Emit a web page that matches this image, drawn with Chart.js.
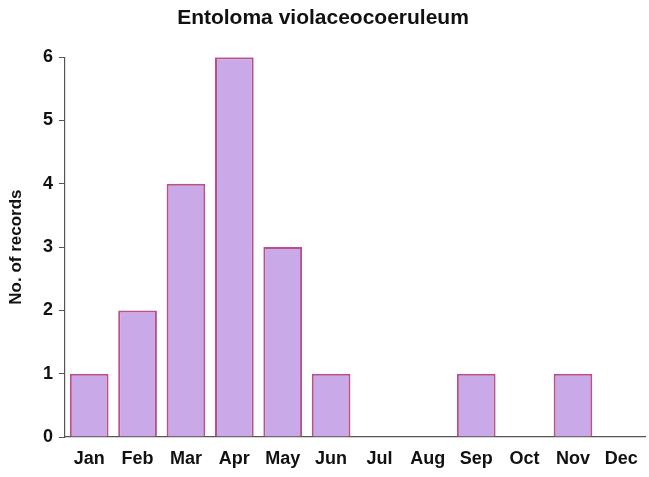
<!DOCTYPE html>
<html>
<head>
<meta charset="utf-8">
<script src="https://cdn.jsdelivr.net/npm/chart.js@4"></script>
<style>
  html, body { margin: 0; padding: 0; background: #fff; }
  #wrap { width: 649px; height: 477px; }
</style>
</head>
<body>
<div id="wrap"><canvas id="c" width="649" height="477"></canvas></div>
<script>
const months = ['Jan', 'Feb', 'Mar', 'Apr', 'May', 'Jun', 'Jul', 'Aug', 'Sep', 'Oct', 'Nov', 'Dec'];
const records = [1, 2, 4, 6, 3, 1, 0, 0, 1, 0, 1, 0];
const yTicks = [0, 1, 2, 3, 4, 5, 6];

const FONT = '"Liberation Sans", Arial, Helvetica, sans-serif';
const AXIS = '#555';

new Chart(document.getElementById('c'), {
  type: 'bar',
  data: {
    labels: months,
    datasets: [{
      data: records,
      backgroundColor: '#c9a9e8',
      borderColor: '#bb4f88',
      borderWidth: 2,
      categoryPercentage: 1,
      barPercentage: 0.8
    }]
  },
  options: {
    responsive: false,
    animation: false,
    devicePixelRatio: 1,
    layout: { padding: { left: 0, right: 3, top: 0, bottom: 0 } },
    plugins: {
      legend: { display: false },
      tooltip: { enabled: false },
      title: {
        display: true,
        text: 'Entoloma violaceocoeruleum',
        color: '#111',
        font: { family: FONT, size: 21, weight: 'bold' },
        padding: { top: 6, bottom: 26 }
      }
    },
    scales: {
      x: {
        grid: { display: false, drawTicks: false },
        border: { display: true, color: AXIS, width: 1.2 },
        ticks: {
          color: '#111',
          padding: 11,
          maxRotation: 0,
          font: { family: FONT, size: 18, weight: 'bold' }
        },
        afterFit: s => { s.height = 40; }
      },
      y: {
        min: 0,
        max: 6,
        afterBuildTicks: s => { s.ticks = yTicks.map(v => ({ value: v })); },
        grid: { drawOnChartArea: false, drawTicks: true, tickLength: 6, color: AXIS },
        border: { display: true, color: AXIS, width: 1.2 },
        ticks: {
          color: '#111',
          padding: 6,
          font: { family: FONT, size: 18, weight: 'bold' }
        },
        title: {
          display: true,
          text: 'No. of records',
          color: '#111',
          font: { family: FONT, size: 17, weight: 'bold' },
          padding: { top: 6, bottom: 0 }
        },
        afterFit: s => { s.width = 65; }
      }
    }
  }
});
</script>
</body>
</html>
